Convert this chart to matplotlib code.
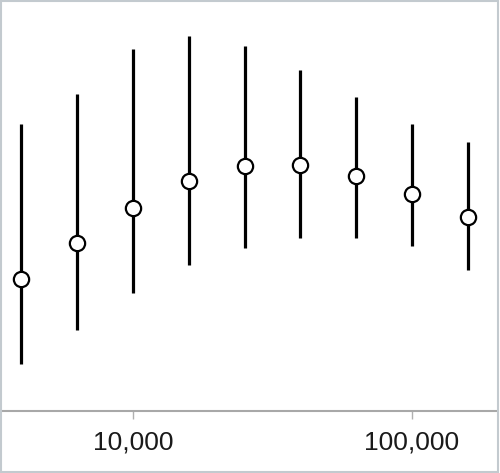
import numpy as np
import matplotlib
matplotlib.use("Agg")
import matplotlib.pyplot as plt
from matplotlib.patches import Rectangle

# x positions (log scale, 0.2 decade apart)
sizes = [3981, 6310, 10000, 15849, 25119, 39811, 63096, 100000, 158489]
# central estimates and interval limits (arbitrary units, no y scale shown)
centre = [132, 168, 203, 230, 245, 246, 235, 217, 194]
upper = [287, 317, 362, 375, 365, 341, 314, 287, 269]
lower = [47, 81, 118, 146, 163, 173, 173, 165, 141]

tick_values = [10000, 100000]
tick_labels = ["10,000", "100,000"]

plt.rcParams["font.family"] = ["Liberation Sans", "DejaVu Sans"]

fig = plt.figure(figsize=(5.0, 4.73), dpi=100)
ax = fig.add_axes([0.004, 0.1311, 0.99, 0.8647])

centre = np.array(centre)
err = [centre - np.array(lower), np.array(upper) - centre]
ax.errorbar(sizes, centre, yerr=err, fmt="o", color="black",
            ecolor="black", elinewidth=2.3, capsize=0,
            markersize=11, markerfacecolor="white",
            markeredgecolor="black", markeredgewidth=1.6)

ax.set_xscale("log")
ax.set_xlim(3393, 201700)
ax.set_ylim(0, 409)

ax.set_xticks(tick_values)
ax.set_xticklabels(tick_labels, fontsize=19, color="#1a1a1a")
ax.xaxis.set_minor_locator(plt.NullLocator())
ax.tick_params(axis="x", length=6, width=1, color="#b0b0b0", pad=8)
ax.set_yticks([])

for side in ["top", "left", "right"]:
    ax.spines[side].set_visible(False)
ax.spines["bottom"].set_color("#a8a8a8")
ax.spines["bottom"].set_linewidth(1.5)

# light frame round the whole picture
fig.add_artist(Rectangle((0.002, 0.002), 0.994, 0.995, transform=fig.transFigure,
                         fill=False, edgecolor="#c3cacf", linewidth=1.5))

fig.savefig("out.png", dpi=100)
